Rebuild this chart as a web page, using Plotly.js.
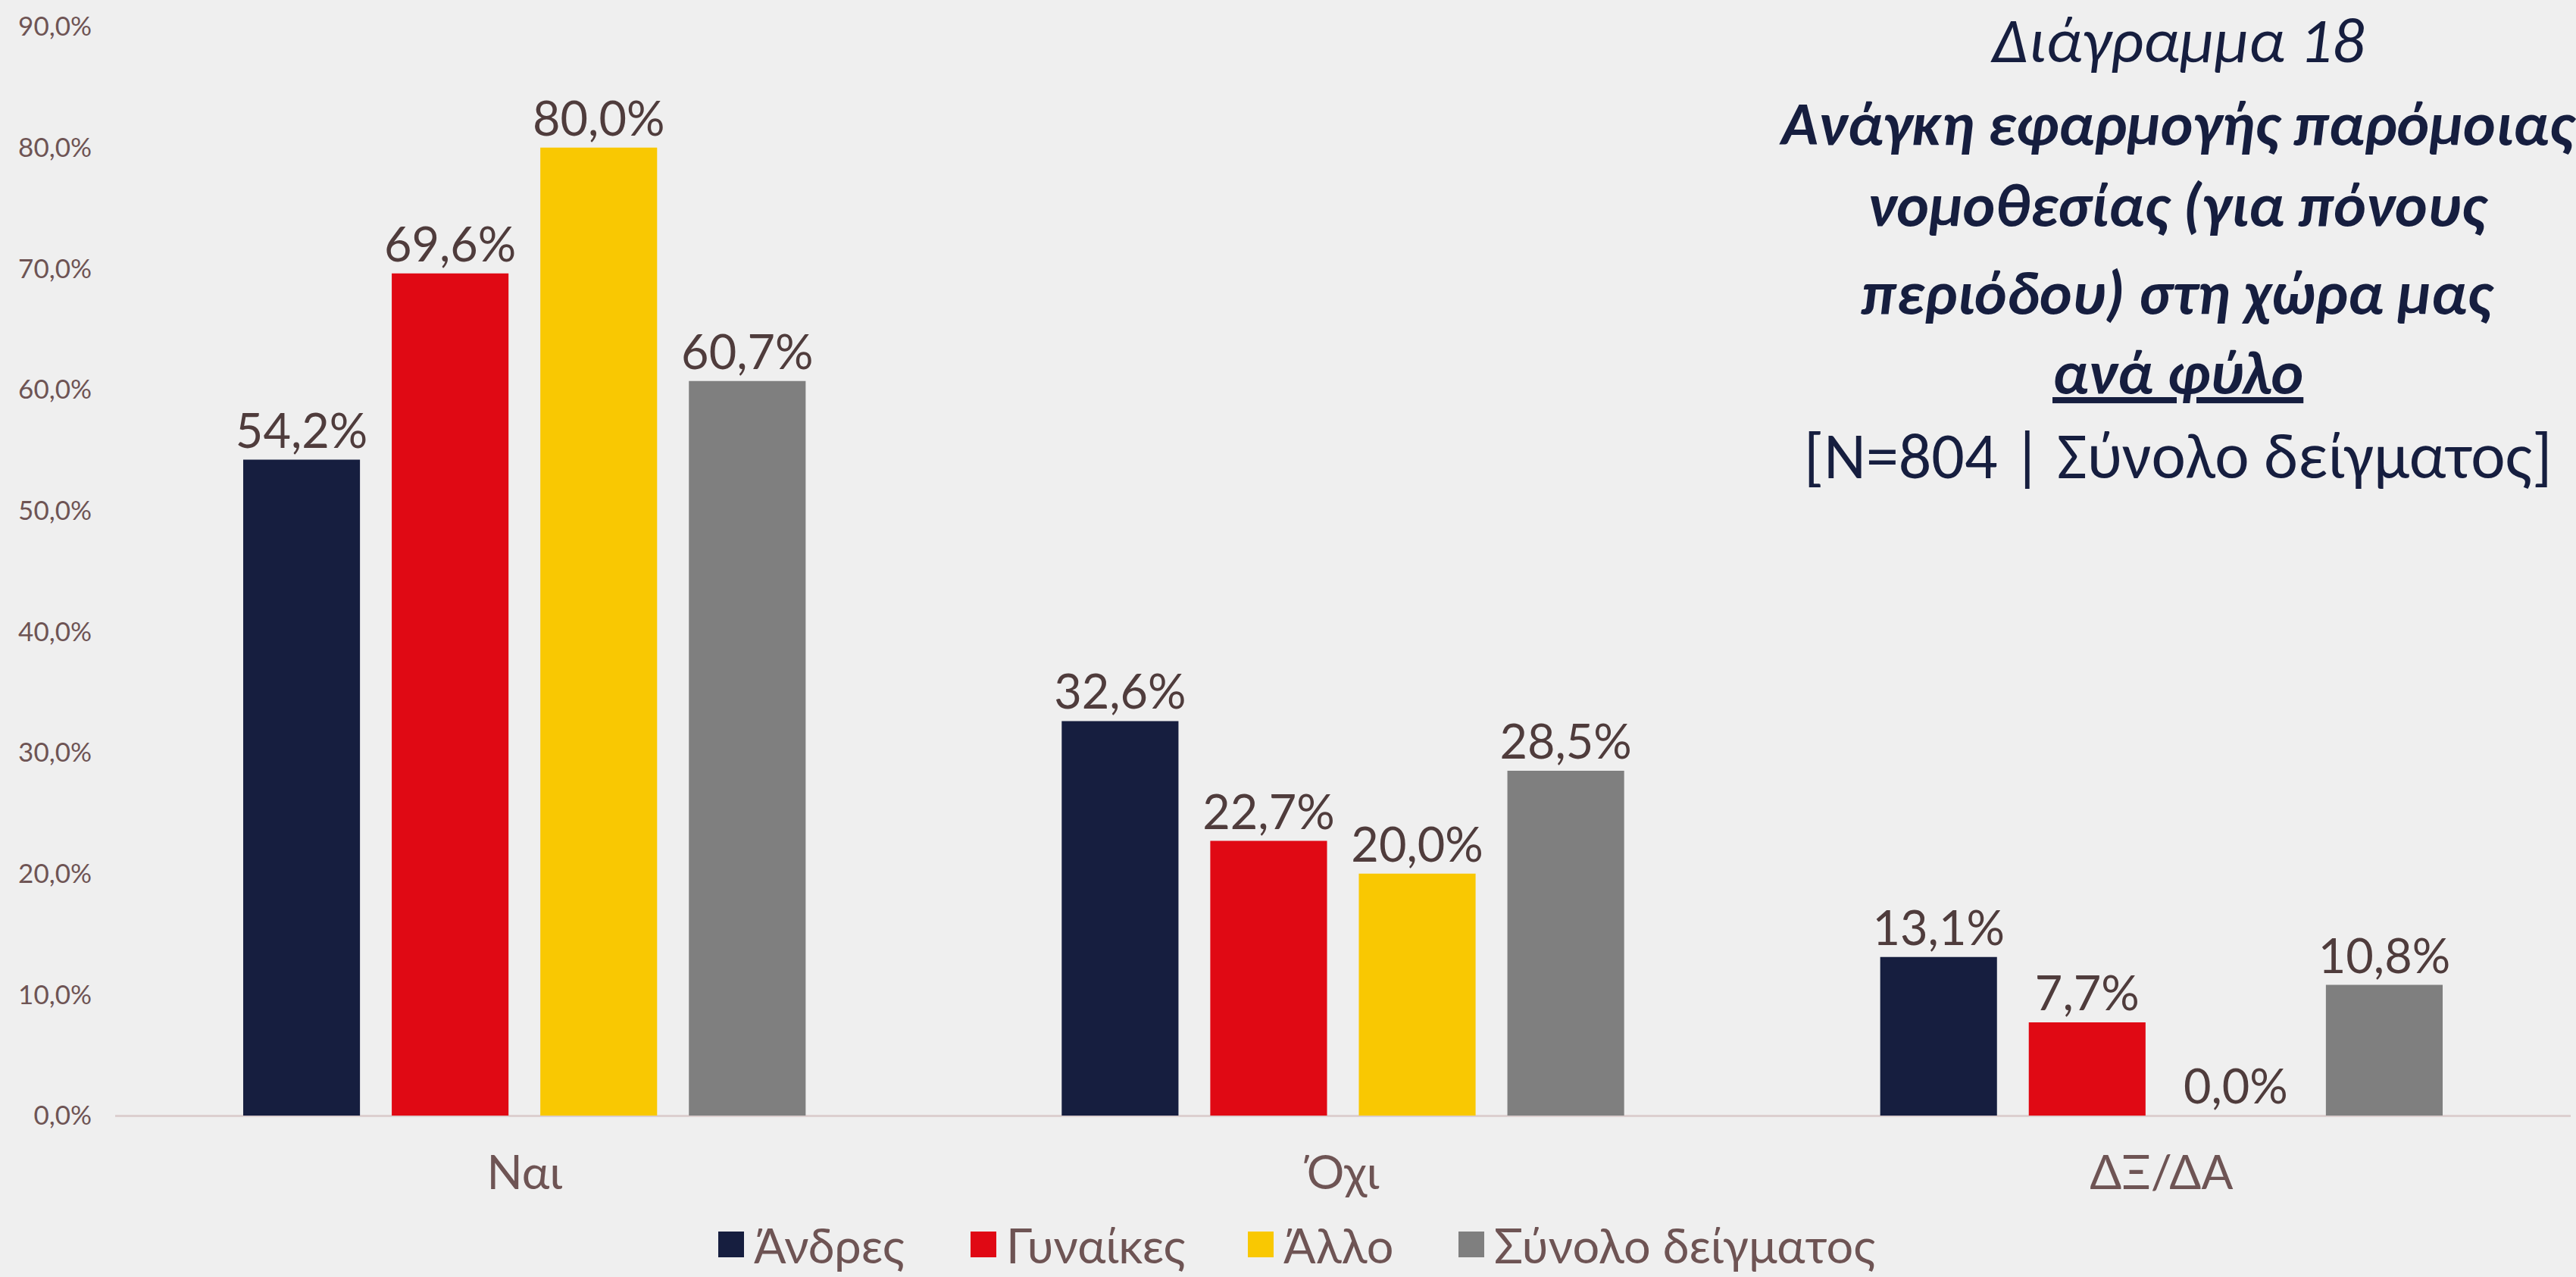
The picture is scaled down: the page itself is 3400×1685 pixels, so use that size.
<!DOCTYPE html>
<html>
<head>
<meta charset="utf-8">
<script src="https://cdn.plot.ly/plotly-3.0.1.min.js"></script>
<style>
  html, body { margin: 0; padding: 0; background: #efefef; }
  #chart { width: 3400px; height: 1685px; }
</style>
</head>
<body>
<div id="chart"></div>
<script>
const categories = ["Ναι", "Όχι", "ΔΞ/ΔΑ"];
const seriesNames = ["Άνδρες", "Γυναίκες", "Άλλο", "Σύνολο δείγματος"];
const andres   = [54.2, 32.6, 13.1];
const gynaikes = [69.6, 22.7, 7.7];
const allo     = [80.0, 20.0, 0.0];
const synolo   = [60.7, 28.5, 10.8];
const yTickValues = [0, 10, 20, 30, 40, 50, 60, 70, 80, 90];
const yTickLabels = ["0,0%", "10,0%", "20,0%", "30,0%", "40,0%", "50,0%", "60,0%", "70,0%", "80,0%", "90,0%"];
const titleLines = [
  "<i>Διάγραμμα 18</i>",
  "<b><i>Ανάγκη εφαρμογής παρόμοιας</i></b>",
  "<b><i>νομοθεσίας (για πόνους</i></b>",
  "<b><i>περιόδου) στη χώρα μας</i></b>",
  "<b><i><u>ανά φύλο</u></i></b>",
  "[N=804 | Σύνολο δείγματος]"
];

const colors = ["#161e3f", "#e00914", "#f9c802", "#7f7f7f"];
const seriesValues = [andres, gynaikes, allo, synolo];
const legendIds = ["legend", "legend2", "legend3", "legend4"];
const FONT = "Lato, 'Open Sans', sans-serif";
const TITLE_FONT = "Carlito, 'Open Sans', 'Noto Sans', sans-serif";

const traces = seriesValues.map((vals, i) => ({
  type: "bar",
  name: seriesNames[i],
  legend: legendIds[i],
  x: categories,
  y: vals,
  marker: { color: colors[i], line: { width: 0 } },
  texttemplate: "%{y:.1f}%",
  textposition: "outside",
  constraintext: "none",
  cliponaxis: false,
  textfont: { family: FONT, size: 63, color: "#4f3c3c" },
  hoverinfo: "skip"
}));

const plotTop = 35, plotBottom = 1472, plotLeft = 152, plotRight = 3393;
const pw = plotRight - plotLeft, ph = plotBottom - plotTop;
const lineCentersPx = [53, 163, 271, 386, 491, 601];
const lineSizes = [85, 81, 81, 81, 81, 86];
const titleCenterX = 2874;
const annotations = titleLines.map((t, i) => ({
  xref: "paper", yref: "paper",
  x: (titleCenterX - plotLeft) / pw,
  y: (plotBottom - lineCentersPx[i]) / ph,
  xanchor: "center", yanchor: "middle",
  showarrow: false,
  text: t,
  font: { family: TITLE_FONT, size: lineSizes[i], color: "#161e3f" }
}));

// legend box left edges (px) for each entry
const legendLeftPx = [935, 1268, 1634, 1912];
const legendCenterYPx = 1642;
function legendCfg(i) {
  return {
    orientation: "h",
    x: (legendLeftPx[i] - plotLeft) / pw, xanchor: "left",
    y: (plotBottom - legendCenterYPx) / ph, yanchor: "middle",
    font: { family: FONT, size: 63, color: "#6e5454" },
    itemwidth: 50,
    bgcolor: "rgba(0,0,0,0)",
    borderwidth: 0
  };
}

const layout = {
  width: 3400, height: 1685,
  paper_bgcolor: "#efefef",
  plot_bgcolor: "#efefef",
  margin: { l: plotLeft, r: 3400 - plotRight, t: plotTop, b: 1685 - plotBottom, pad: 0, autoexpand: false },
  separators: ",.",
  barmode: "group",
  bargap: 0.274,
  bargroupgap: 0.214,
  showlegend: true,
  legend: legendCfg(0),
  legend2: legendCfg(1),
  legend3: legendCfg(2),
  legend4: legendCfg(3),
  xaxis: {
    type: "category",
    showgrid: false,
    showline: false,
    zeroline: false,
    ticks: "",
    ticklabelstandoff: 34,
    tickfont: { family: FONT, size: 62, color: "#6e5454" }
  },
  yaxis: {
    range: [0, 90],
    tickvals: yTickValues,
    ticktext: yTickLabels,
    showgrid: false,
    showline: false,
    zeroline: true,
    zerolinecolor: "#dccfcf",
    zerolinewidth: 3,
    ticks: "",
    ticklabelstandoff: 30,
    tickfont: { family: FONT, size: 35, color: "#6e5454" }
  },
  annotations: annotations
};

Plotly.newPlot("chart", traces, layout, { staticPlot: true, displayModeBar: false }).then(() => {
  document.querySelectorAll(".legendpoints path").forEach(p => {
    p.setAttribute("d", "M17,17H-17V-17H17Z");
  });
});
</script>
</body>
</html>
